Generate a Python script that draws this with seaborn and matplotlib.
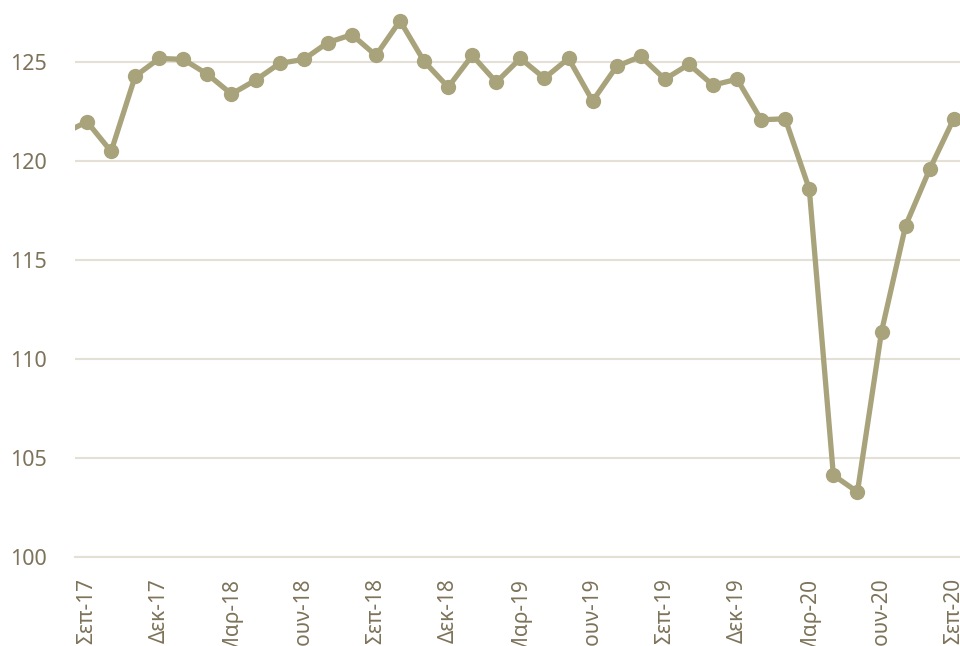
# Monthly index, Aug-17 to Sep-20

import matplotlib
matplotlib.use("Agg")
import matplotlib.pyplot as plt
import seaborn as sns
import pandas as pd

months = ["Αυγ-17", "Σεπ-17", "Οκτ-17", "Νοε-17", "Δεκ-17",
          "Ιαν-18", "Φεβ-18", "Μαρ-18", "Απρ-18", "Μαϊ-18", "Ιουν-18",
          "Ιουλ-18", "Αυγ-18", "Σεπ-18", "Οκτ-18", "Νοε-18", "Δεκ-18",
          "Ιαν-19", "Φεβ-19", "Μαρ-19", "Απρ-19", "Μαϊ-19", "Ιουν-19",
          "Ιουλ-19", "Αυγ-19", "Σεπ-19", "Οκτ-19", "Νοε-19", "Δεκ-19",
          "Ιαν-20", "Φεβ-20", "Μαρ-20", "Απρ-20", "Μαϊ-20", "Ιουν-20",
          "Ιουλ-20", "Αυγ-20", "Σεπ-20"]
values = [121.4, 122.0, 120.5, 124.3, 125.2,
          125.15, 124.4, 123.4, 124.1, 124.95, 125.15,
          126.0, 126.4, 125.35, 127.1, 125.05, 123.75,
          125.35, 124.0, 125.2, 124.2, 125.2, 123.05,
          124.8, 125.3, 124.15, 124.9, 123.85, 124.15,
          122.1, 122.15, 118.6, 104.15, 103.3, 111.4,
          116.75, 119.6, 122.15]

df = pd.DataFrame({"pos": range(len(months)), "month": months, "value": values})

line_col = "#a8a37b"
text_col = "#7d735a"
grid_col = "#e4e0d6"

sns.set_theme(style="white")
plt.rcParams["font.family"] = ["Noto Sans", "DejaVu Sans"]

fig = plt.figure(figsize=(9.6, 6.46), dpi=100)
ax = fig.add_axes([75 / 960, 88.7 / 646, 885 / 960, 557.3 / 646])

sns.lineplot(data=df, x="pos", y="value", ax=ax, color=line_col,
             linewidth=3.8, marker="o", markersize=11,
             markeredgewidth=0, clip_on=True)

ax.set_xlim(0.5, 37.26)
ax.set_ylim(100, 128.15)
ax.set_yticks([100, 105, 110, 115, 120, 125])
ax.yaxis.grid(True, color=grid_col, linewidth=1.5)
ax.set_axisbelow(True)

# labels every third month, tick marks on the category boundaries
label_pos = list(range(1, len(months), 3))
ax.set_xticks(label_pos)
ax.set_xticklabels([months[i] for i in label_pos], rotation=90, va="top")
ax.set_xticks([p - 0.5 for p in label_pos], minor=True)
ax.tick_params(axis="x", which="major", length=0, pad=15,
               labelsize=15, labelcolor=text_col)
ax.tick_params(axis="x", which="minor", length=6, width=1.5,
               color=grid_col, direction="out")
ax.tick_params(axis="y", length=0, pad=20, labelsize=15.5, labelcolor=text_col)

for s in ["top", "right", "left"]:
    ax.spines[s].set_visible(False)
ax.spines["bottom"].set_color(grid_col)
ax.spines["bottom"].set_linewidth(1.5)

ax.set_xlabel("")
ax.set_ylabel("")

plt.savefig("out.png", dpi=100)
